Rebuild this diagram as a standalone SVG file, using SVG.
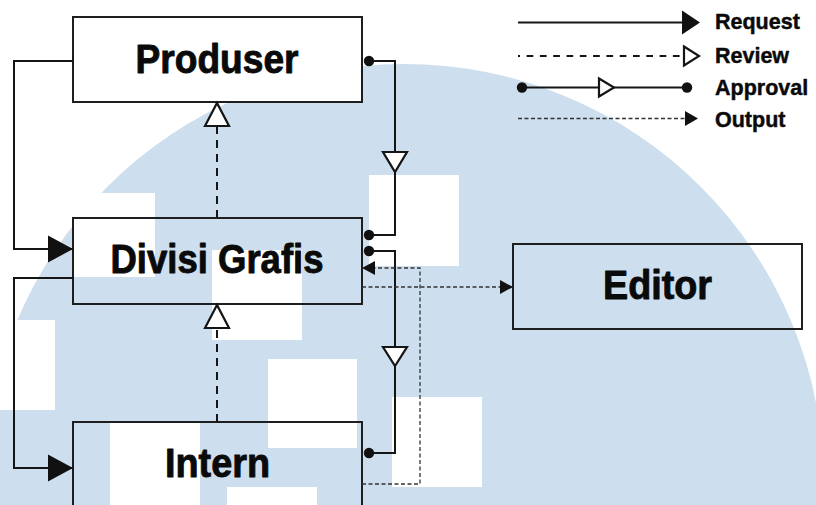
<svg xmlns="http://www.w3.org/2000/svg" width="816" height="505" viewBox="0 0 816 505">
  <style>
    .box { fill: none; stroke: #1e1e1e; stroke-width: 2; }
    .box-white { fill: #ffffff; stroke: #1e1e1e; stroke-width: 2; }
    .label { font-family: "Liberation Sans", Arial, sans-serif; font-weight: bold; font-size: 40px; fill: #0a0a0a; stroke: #0a0a0a; stroke-width: 0.9; stroke-linejoin: round; text-anchor: middle; }
    .legend-text { font-family: "Liberation Sans", Arial, sans-serif; font-weight: bold; font-size: 21.5px; fill: #0a0a0a; stroke: #0a0a0a; stroke-width: 0.45; stroke-linejoin: round; }
    .req { fill: none; stroke: #151515; stroke-width: 2; }
    .rev { fill: none; stroke: #151515; stroke-width: 2; stroke-dasharray: 8 6; }
    .appr { fill: none; stroke: #151515; stroke-width: 2; }
    .out { fill: none; stroke: #333333; stroke-width: 1.3; stroke-dasharray: 4 2.5; }
    .hollow { fill: #ffffff; stroke: #151515; stroke-width: 2.2; stroke-linejoin: miter; }
    .solid { fill: #111111; }
    .dot { fill: #111111; }
    .wm { fill: #ffffff; }
  </style>
  <defs>
    <marker id="arrowReq" markerUnits="userSpaceOnUse" markerWidth="30" markerHeight="30" refX="25" refY="13.5" orient="auto" overflow="visible">
      <path d="M0,0 L25,13.5 L0,27 Z" class="solid"/>
    </marker>
    <marker id="triRev" markerUnits="userSpaceOnUse" markerWidth="30" markerHeight="30" refX="23" refY="0" orient="auto" overflow="visible">
      <path d="M0,-12 L23,0 L0,12 Z" class="hollow"/>
    </marker>
    <marker id="arrowOut" markerUnits="userSpaceOnUse" markerWidth="16" markerHeight="16" refX="13" refY="0" orient="auto" overflow="visible">
      <path d="M0,-7 L13,0 L0,7 Z" class="solid"/>
    </marker>
  </defs>

  <!-- background and watermark -->
  <rect x="0" y="0" width="816" height="505" fill="#ffffff"/>
  <g id="watermark">
    <circle cx="404" cy="484" r="420" fill="#cddfee"/>
    <rect class="wm" x="73" y="193" width="82" height="84"/>
    <rect class="wm" x="212" y="250" width="90" height="90"/>
    <rect class="wm" x="369" y="175" width="90" height="91"/>
    <rect class="wm" x="-35" y="320" width="90" height="90"/>
    <rect class="wm" x="110" y="422" width="90" height="90"/>
    <rect class="wm" x="227" y="487" width="90" height="90"/>
    <rect class="wm" x="268" y="359" width="89" height="89"/>
    <rect class="wm" x="392" y="397" width="90" height="90"/>
  </g>

  <!-- nodes -->
  <g id="produser">
    <rect class="box-white" x="73" y="17" width="289" height="85"/>
    <text class="label" x="217" y="72.5" textLength="163" lengthAdjust="spacingAndGlyphs">Produser</text>
  </g>
  <g id="divisi-grafis">
    <rect class="box" x="73" y="218" width="289" height="86"/>
    <text class="label" x="217" y="273" textLength="213" lengthAdjust="spacingAndGlyphs">Divisi Grafis</text>
  </g>
  <g id="intern">
    <rect class="box" x="73" y="422" width="289" height="100"/>
    <text class="label" x="217.5" y="477" textLength="105" lengthAdjust="spacingAndGlyphs">Intern</text>
  </g>
  <g id="editor">
    <rect class="box" x="513" y="244" width="289" height="85"/>
    <text class="label" x="657.5" y="299" textLength="109" lengthAdjust="spacingAndGlyphs">Editor</text>
  </g>

  <!-- connectors -->
  <g id="connectors">
    <!-- requests -->
    <path class="req" d="M73,61 H14 V249 H73" marker-end="url(#arrowReq)"/>
    <path class="req" d="M73,278 H14 V468 H73" marker-end="url(#arrowReq)"/>
    <!-- reviews -->
    <path class="rev" d="M217,218 V103" marker-end="url(#triRev)"/>
    <path class="rev" d="M217,422 V305" marker-end="url(#triRev)"/>
    <!-- approvals -->
    <path class="appr" d="M369,61 H395 V235 H369"/>
    <polygon class="hollow" points="383,152 407,152 395,172"/>
    <circle class="dot" cx="369" cy="61" r="5.2"/>
    <circle class="dot" cx="369" cy="235" r="5.2"/>
    <path class="appr" d="M369,251 H395 V453 H369"/>
    <polygon class="hollow" points="383,347 407,347 395,366"/>
    <circle class="dot" cx="369" cy="251" r="5.2"/>
    <circle class="dot" cx="369" cy="453" r="5.2"/>
    <!-- outputs -->
    <path class="out" d="M362,287 H513" marker-end="url(#arrowOut)"/>
    <path class="out" d="M362,484 H420 V268 H362" marker-end="url(#arrowOut)"/>
  </g>

  <!-- legend -->
  <g id="legend">
    <line class="req" x1="518" y1="22.5" x2="684" y2="22.5"/>
    <polygon class="solid" points="682,10.5 700,22.5 682,34.5"/>
    <text class="legend-text" x="715" y="28.5">Request</text>

    <line class="rev" x1="518" y1="56" x2="684" y2="56" style="stroke-dasharray: 6.7 6.6; stroke-dashoffset: 4.7;"/>
    <polygon class="hollow" points="684,46.5 699,56 684,65.5"/>
    <text class="legend-text" x="715" y="62.5">Review</text>

    <line class="appr" x1="522" y1="87.5" x2="687" y2="87.5"/>
    <polygon class="hollow" points="599,78.5 614,87.5 599,96.5"/>
    <circle class="dot" cx="522" cy="87.5" r="5.2"/>
    <circle class="dot" cx="687" cy="87.5" r="5.2"/>
    <text class="legend-text" x="715" y="94.5">Approval</text>

    <line class="out" x1="518" y1="118.5" x2="686" y2="118.5"/>
    <polygon class="solid" points="685,111 698,118.5 685,126"/>
    <text class="legend-text" x="715" y="126.5">Output</text>
  </g>
</svg>
